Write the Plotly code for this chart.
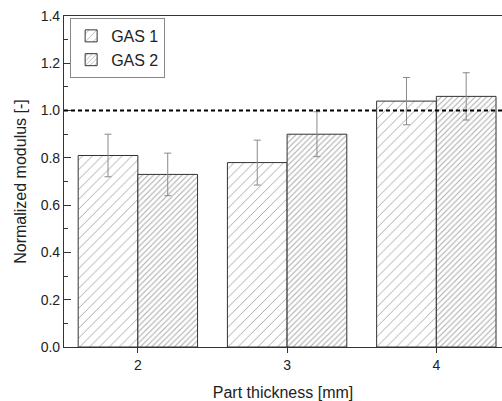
import plotly.graph_objects as go

thickness = [2, 3, 4]
gas1 = [0.81, 0.78, 1.04]
gas1_err = [0.09, 0.095, 0.10]
gas2 = [0.73, 0.90, 1.06]
gas2_err = [0.09, 0.095, 0.10]
series_names = ["GAS 1", "GAS 2"]
y_ticks = [0.0, 0.2, 0.4, 0.6, 0.8, 1.0, 1.2, 1.4]
reference_level = 1.0

FONT = "Liberation Sans, Arial, sans-serif"

fig = go.Figure()
fig.add_trace(go.Bar(
    x=thickness, y=gas1, name=series_names[0],
    error_y=dict(type="data", array=gas1_err, color="#8a8a8a", thickness=1, width=3.5),
    marker=dict(color="white", line=dict(color="#333", width=1),
                pattern=dict(shape="/", size=7, solidity=0.14, fgcolor="#555", bgcolor="white")),
))
fig.add_trace(go.Bar(
    x=thickness, y=gas2, name=series_names[1],
    error_y=dict(type="data", array=gas2_err, color="#8a8a8a", thickness=1, width=3.5),
    marker=dict(color="white", line=dict(color="#333", width=1),
                pattern=dict(shape="/", size=4, solidity=0.25, fgcolor="#555", bgcolor="white")),
))

fig.add_hline(y=reference_level, line=dict(color="black", width=2, dash="4px,3px"))

fig.update_layout(
    width=502, height=401,
    margin=dict(l=64, r=0, t=16, b=54),
    paper_bgcolor="white", plot_bgcolor="white",
    barmode="group", bargap=0.2, bargroupgap=0,
    font=dict(family=FONT, color="#222"),
    showlegend=True,
    legend=dict(x=0.014, y=0.994, xanchor="left", yanchor="top",
                bordercolor="#888", borderwidth=1, bgcolor="white",
                font=dict(size=16, family=FONT, color="#222"),
                tracegroupgap=0, itemwidth=30),
)
fig.update_xaxes(
    range=[1.505, 4.44], tickvals=thickness, ticktext=[str(t) for t in thickness],
    showline=True, linecolor="#333", linewidth=1.2, mirror=True,
    ticks="outside", ticklen=5, tickcolor="#333",
    showgrid=False, zeroline=False,
    tickfont=dict(size=14, family=FONT, color="#222"),
    title=dict(text="Part thickness [mm]", font=dict(size=16, family=FONT, color="#222"), standoff=14),
)
fig.update_yaxes(
    range=[0, 1.4], tickvals=y_ticks, ticktext=[f"{v:.1f}" for v in y_ticks],
    showline=True, linecolor="#333", linewidth=1.2, mirror=False,
    ticks="inside", ticklen=7, tickcolor="#333",
    minor=dict(dtick=0.1, ticks="inside", ticklen=4, tickcolor="#333", showgrid=False),
    showgrid=False, zeroline=False,
    tickfont=dict(size=14, family=FONT, color="#222"),
    title=dict(text="Normalized modulus [-]", font=dict(size=16, family=FONT, color="#222"), standoff=10),
)

fig.write_html("out.html")
